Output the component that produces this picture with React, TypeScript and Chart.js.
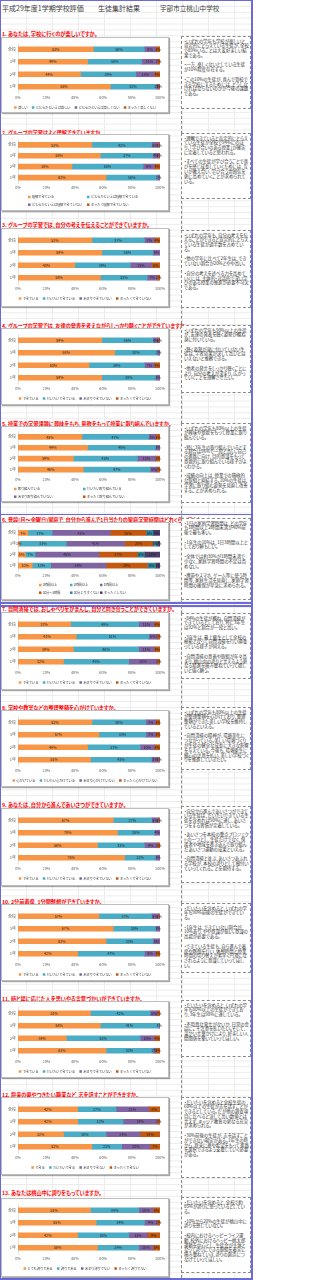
import React, { useEffect, useRef } from 'react';
import { Chart, registerables } from 'chart.js';
Chart.register(...registerables);

const FONT = '"Noto Sans CJK JP", "Noto Sans", sans-serif';

const categories = ['全校', '3年', '2年', '1年'];
const xTickLabels = ['0%', '20%', '40%', '60%', '80%', '100%'];

const colors4 = ['#F79646', '#4BACC6', '#8064A2', '#C4580E'];
const colors6 = ['#F79646', '#4BACC6', '#8064A2', '#C4580E', '#31859C', '#4B3A6B'];

// legend labels
const labels1 = ['楽しい', 'どちらかといえば楽しい', 'どちらかといえば楽しくない', 'まったく楽しくない'];
const labels2 = ['理解できている', 'どちらかといえば理解できている', 'どちらかといえば理解できていない', 'まったく理解できていない'];
const labelsDekiru = ['できている', 'だいたいできている', 'あまりできていない', 'まったくできていない'];
const labels5 = ['取り組んでいる', 'だいたい取り組んでいる', 'あまり取り組んでいない', 'まったく取り組んでいない'];
const labels6 = ['3時間以上', '2時間以上', '1時間以上', '30分〜1時間', '30分よりすくない', 'まったくしない'];
const labels8 = ['心がけている', 'だいたい心がけている', 'あまり心がけていない', 'まったく心がけていない'];
const labels12 = ['できる', 'だいたいできる', 'あまりできない', 'まったくできない'];
const labels13 = ['とても誇りである', '誇りである', 'あまり誇りでない', 'まったく誇りでない'];

// series values, each array ordered as categories: 全校, 3年, 2年, 1年
const q1Series = [[53, 49, 44, 65], [36, 38, 39, 32], [8, 11, 13, 2], [3, 2, 4, 1]];
const q2Series = [[52, 58, 38, 62], [42, 37, 50, 36], [5, 4, 8, 2], [1, 1, 4, 0]];
const q3Series = [[52, 59, 40, 58], [37, 36, 39, 33], [7, 5, 15, 7], [4, 0, 6, 2]];
const q4Series = [[59, 68, 50, 59], [36, 30, 39, 38], [4, 2, 7, 3], [1, 0, 4, 0]];
const q5Series = [[45, 49, 39, 46], [47, 48, 45, 47], [5, 3, 13, 5], [3, 0, 3, 2]];
const q6Series = [[7, 1, 5, 10], [17, 33, 7, 13], [41, 41, 45, 39], [25, 20, 27, 29], [5, 3, 5, 6], [5, 2, 11, 3]];
const q7Series = [[37, 41, 39, 32], [48, 51, 46, 46], [11, 6, 11, 20], [4, 2, 4, 2]];
const q8Series = [[52, 57, 49, 51], [38, 33, 37, 43], [7, 7, 10, 5], [3, 3, 4, 1]];
const q9Series = [[67, 70, 56, 75], [27, 26, 33, 22], [5, 4, 9, 3], [1, 0, 2, 0]];
const q10Series = [[57, 67, 62, 42], [37, 30, 33, 47], [5, 3, 5, 8], [1, 0, 0, 3]];
const q11Series = [[51, 58, 34, 62], [42, 41, 52, 33], [5, 1, 10, 2], [2, 0, 4, 3]];
const q12Series = [[42, 42, 32, 52], [27, 32, 30, 21], [23, 24, 24, 20], [8, 2, 14, 7]];
const q13Series = [[51, 55, 42, 56], [34, 34, 36, 29], [10, 9, 13, 10], [5, 2, 9, 5]];

const titles = [
  '1. あなたは、学校に行くのが楽しいですか。',
  '2. グループの学習はよく理解できていますか。',
  '3. グループの学習では、自分の考えを伝えることができていますか。',
  '4. グループの学習では、友達の発表を考えながらしっかり聴くことができていますか。',
  '5. 授業での学習課題に興味をもち、意欲をもって授業に取り組んでいますか。',
  '6. 普段(月〜金曜日)家庭で、自分から進んで1日当たりの家庭学習時間はどれくらいですか。',
  '7. 自問清掃では、おしゃべりをがまんし、自分と向き合うことができていますか。',
  '8. 学校や教室などの整理整頓を心がけていますか。',
  '9. あなたは、自分から進んであいさつができていますか。',
  '10. 2分前着席、1分間黙想ができていますか。',
  '11. 時と場に応じた人を思いやる言葉づかいができていますか。',
  '12. 将来の夢やつきたい職業など、志を話すことができますか。',
  '13. あなたは桃山中に誇りをもっていますか。',
];

const comments = [
  ['・いずれの学年も学校が楽しいと肯定的にとらえている生徒が、全校で89%いることは大変好ましい結果である。', '・一方、楽しくないとしている生徒が10%程度存在する。', '・この10%の生徒が、喜んで登校できる学校にするためには、どうしなければならないのかが今後の課題である。'],
  ['・理解できていると肯定的にとらえている生徒が全校で94%にのぼり、「学び合いのある授業」が確実に定着していると思われる。', '・すべての生徒が学び合うことで喜びを感じ成長していくためには、互いが教え合い、学び合う雰囲気を更に高めていくことが求められている。'],
  ['・いずれの学年も、自分の考えを伝えることができると肯定的にとらえている生徒が過半数を占めている。', '・他の学年に比べて2年生は、できていない割合が20%とやや高い。', '・自分の考えを述べる力を高めていくには、主体的・対話的で深い学びのある授業の推進が必要不可欠である。'],
  ['・いずれの学年も90%以上の生徒が、友達の発表を聴く姿勢が概ね身に付いている。', '・聴く姿勢が身に付いていない生徒は、学習効果が決して高いとはいえないと推察できる。', '・他者の発言をしっかり聴くことにより、自分の考えが深まり、広がっていくことを理解させたい。'],
  ['・いずれの学年も80%以上の生徒が興味や意欲をもって授業に取り組んでいる。', '・特に3年生の取り組んでいるとする割合は96%で一段と高い。自己の進路に向け、目的意識をもって意欲的に取り組んでいる様子がよくわかる。', '・成績の向上は、授業での積極的な取組と直結する。10%の生徒は、学習に取り組む姿勢を見直し改善することが求められる。'],
  ['・1日の家庭学習時間は、どの学年も1時間以上2時間未満が40%前後で最も多い。', '・1年生の10%は、1日3時間以上としており頼もしい。', '・全体では約30%が1時間未満で少なく、家庭学習時間の不足は否めない。', '・携帯やスマホ、ゲーム等に使う時間等、家庭生活を見直し、家庭学習時間の確保が早急に求められる。'],
  ['・84%の生徒が概ね、自問清掃ができているとしており、特に3年生は92%と割合が一段と高い。', '・3年生は、最上級生として全校の模範となって自問清掃を行い頑張っている様子が伺える。', '・自問清掃の意義や取組が年々高まり、桃山中の誇りと言えるよう更なる精進を積み重ねていって欲しいと強く願う。'],
  ['・いずれの学年も80%以上の生徒が整理整頓を心がけており、整理整頓ができた美しい学校を維持しているといえる。', '・自問清掃の精神が、環境美化につながっている。美しい環境づくりが生徒の健全な成長に大きな影響を与えている。今後も、環境衛生に細心の注意を払い、美しい学校づくりを推進していきたい。'],
  ['・自分から進んであいさつができている生徒は、だいたいできている生徒を含めれば90%に達し、あいさつをする習慣が定着している。', '・あいさつを本校の重点プロジェクトの一つとし、生徒だけでなく、保護者や地域を巻き込んで取り組んだあいさつ運動の成果といえる。', '・自問清掃と並ぶ、あいさつあふれる学校が、本校の誇りとして根付いていってくれることを期待する。'],
  ['・だいたいを含めると、いずれの学年も90%前後の生徒ができている。', '・1年生は、できていない割合が10%あり、やや意識が低い。意識の高揚が必要である。', '・できている生徒も、自ら進んで着席や黙想を行い、休憩時間と授業時間の切り替えが素早く円滑になされるように意識していってほしい。'],
  ['・だいたいを含めると、いずれの学年も80%以上の生徒ができており、3年生は98%に達している。', '・不用意な発言がないか、日常の会話にこそ注意を払いたい。そして、温かい言葉かけにより、好ましい人間関係を築いていってほしい。'],
  ['・だいたいを含めると全校生徒の60%以上の生徒が志を話すことができるとしている。だが他の調査項目に比べると決して高い数値とは言えず、キャリア教育の更なる充実が求められる。', '・30%前後の生徒が、志を話すことができない現実がある。1年生の時から、将来に夢や希望をもって進路を選択できるよう支援していく必要がある。'],
  ['・だいたいを含めると、全校で約85%が誇りに思っているとしている。', '・10%から20%の生徒が桃山中に誇りを感じていない。', '・校内におけるハッピーライフ運動、校外におけるハッピー桃太郎運動を中心とし、生徒会が主体となって誇りにできる取組を着実に積み重ねていき、誇りの創造につなげていってほしい。'],
];

const sectionData = [
  { labels: labels1, series: q1Series, colors: colors4 },
  { labels: labels2, series: q2Series, colors: colors4 },
  { labels: labelsDekiru, series: q3Series, colors: colors4 },
  { labels: labelsDekiru, series: q4Series, colors: colors4 },
  { labels: labels5, series: q5Series, colors: colors4 },
  { labels: labels6, series: q6Series, colors: colors6 },
  { labels: labelsDekiru, series: q7Series, colors: colors4 },
  { labels: labels8, series: q8Series, colors: colors4 },
  { labels: labelsDekiru, series: q9Series, colors: colors4 },
  { labels: labelsDekiru, series: q10Series, colors: colors4 },
  { labels: labelsDekiru, series: q11Series, colors: colors4 },
  { labels: labels12, series: q12Series, colors: colors4 },
  { labels: labels13, series: q13Series, colors: colors4 },
];

// layout: positions on the page (px)
type Lay = { titleY: number; boxTop: number; boxH: number; textTop: number; textH: number; cols?: number[] };
const layout: Lay[] = [
  { titleY: 33, boxTop: 37, boxH: 76, textTop: 36, textH: 73 },
  { titleY: 132, boxTop: 134, boxH: 77, textTop: 133, textH: 66, cols: [26, 85] },
  { titleY: 224, boxTop: 228, boxH: 79, textTop: 230, textH: 78 },
  { titleY: 325, boxTop: 328, boxH: 77, textTop: 325, textH: 68 },
  { titleY: 423, boxTop: 426, boxH: 76, textTop: 423, textH: 80, cols: [12, 81] },
  { titleY: 519, boxTop: 522, boxH: 78, textTop: 518, textH: 82, cols: [37, 68, 98] },
  { titleY: 608, boxTop: 612, boxH: 78, textTop: 613, textH: 66 },
  { titleY: 707, boxTop: 710, boxH: 77, textTop: 707, textH: 63 },
  { titleY: 804, boxTop: 808, boxH: 78, textTop: 806, textH: 77 },
  { titleY: 901, boxTop: 904, boxH: 77, textTop: 903, textH: 70 },
  { titleY: 998, boxTop: 1001, boxH: 77, textTop: 1000, textH: 57 },
  { titleY: 1094, boxTop: 1097, boxH: 78, textTop: 1097, textH: 81 },
  { titleY: 1192, boxTop: 1198, boxH: 79, textTop: 1197, textH: 76 },
];

const BOX_W = 168;

const segLabels = {
  id: 'segLabels',
  afterDatasetsDraw(chart: any) {
    const ctx = chart.ctx;
    ctx.save();
    ctx.font = `3.7px ${FONT}`;
    ctx.fillStyle = '#262626';
    ctx.textAlign = 'center';
    ctx.textBaseline = 'middle';
    chart.data.datasets.forEach((ds: any, di: number) => {
      const meta = chart.getDatasetMeta(di);
      meta.data.forEach((el: any, i: number) => {
        const v = ds.data[i];
        if (!v) return;
        const p = el.getProps(['x', 'y', 'base'], true);
        ctx.fillText(v + '%', (p.x + p.base) / 2, p.y + 0.3);
      });
    });
    ctx.restore();
  },
};

const gridLegend = {
  id: 'gridLegend',
  afterDraw(chart: any, _args: any, opts: any) {
    const ctx = chart.ctx;
    const items = chart.data.datasets.map((d: any) => ({ text: d.label, color: d.backgroundColor }));
    const size = 3.4;
    const box = 2.5;
    const gap = 4.5;
    ctx.save();
    ctx.font = `${size}px ${FONT}`;
    try { (ctx as any).letterSpacing = '-0.25px'; } catch (e) { /* ignore */ }
    ctx.textBaseline = 'middle';
    ctx.textAlign = 'left';
    const drawItem = (it: any, x: number, y: number) => {
      ctx.fillStyle = it.color;
      ctx.fillRect(x, y - box / 2, box, box);
      ctx.fillStyle = '#404040';
      ctx.fillText(it.text, x + box + 1.3, y + 0.2);
    };
    if (opts.cols) {
      const n = opts.cols.length;
      items.forEach((it: any, k: number) => {
        const r = Math.floor(k / n);
        const c = k % n;
        drawItem(it, opts.cols[c], opts.y + r * 7.7);
      });
    } else {
      const widths = items.map((it: any) => box + 1.3 + ctx.measureText(it.text).width);
      const total = widths.reduce((a: number, b: number) => a + b, 0) + gap * (items.length - 1);
      let x = (chart.width - total) / 2;
      items.forEach((it: any, k: number) => {
        drawItem(it, x, opts.y);
        x += widths[k] + gap;
      });
    }
    ctx.restore();
  },
};

function buildConfig(idx: number): any {
  const s = sectionData[idx];
  const lay = layout[idx];
  const canvasH = lay.boxH - 2;
  const twoRows = !!lay.cols;
  const areaTop = twoRows ? 3.5 : 5;
  const areaBottom = twoRows ? 48 : 55;
  return {
    type: 'bar',
    data: {
      labels: categories,
      datasets: s.series.map((d, k) => ({
        label: s.labels[k],
        data: d,
        backgroundColor: s.colors[k],
        borderWidth: 0,
        barThickness: 5,
      })),
    },
    options: {
      indexAxis: 'y',
      responsive: false,
      animation: false,
      devicePixelRatio: 1,
      layout: { padding: { top: areaTop, bottom: canvasH - areaBottom - 8, left: 2, right: 8 } },
      plugins: {
        legend: { display: false },
        tooltip: { enabled: false },
        gridLegend: { cols: lay.cols, y: twoRows ? 62 : 69.5 },
      },
      scales: {
        x: {
          stacked: true,
          min: 0,
          max: 100,
          ticks: {
            stepSize: 20,
            padding: 2.5,
            color: '#595959',
            font: { size: 3.8, family: FONT },
            callback: (_v: any, i: number) => xTickLabels[i],
          },
          grid: { display: false, drawTicks: false },
          border: { display: false },
          afterFit: (sc: any) => { sc.height = 8; },
        },
        y: {
          stacked: true,
          ticks: { color: '#595959', font: { size: 4, family: FONT }, padding: 2 },
          grid: { display: false, drawTicks: false },
          border: { display: true, color: '#d0d0d0', width: 0.6 },
          afterFit: (sc: any) => { sc.width = 14; },
        },
      },
    },
    plugins: [segLabels, gridLegend],
  };
}

export default function App() {
  const refs = useRef<(HTMLCanvasElement | null)[]>([]);
  useEffect(() => {
    const charts = layout.map((_, i) => new Chart(refs.current[i] as HTMLCanvasElement, buildConfig(i)));
    return () => charts.forEach((c) => c.destroy());
  }, []);

  const gridBg = {
    backgroundColor: '#fff',
    backgroundImage:
      'linear-gradient(to bottom, #ececec 1px, transparent 1px), linear-gradient(to right, #ececec 1px, transparent 1px)',
    backgroundSize: '100% 5.9px, 26px 100%',
  } as React.CSSProperties;

  const palt = { fontFeatureSettings: '"palt" 1' } as React.CSSProperties;
  const blue = '#6a6ad8';

  return (
    <div style={{ position: 'absolute', left: 0, top: 0, width: 315, height: 1280, background: '#fff', overflow: 'hidden', fontFamily: FONT }}>
      <div style={{ position: 'absolute', left: 0, top: 0, width: 252, height: 1280, ...gridBg }} />
      {/* page border / page breaks */}
      <div style={{ position: 'absolute', left: 0, top: 0, width: 1, height: 1280, background: blue }} />
      <div style={{ position: 'absolute', left: 251, top: 0, width: 2, height: 1280, background: blue }} />
      <div style={{ position: 'absolute', left: 0, top: 0, width: 253, height: 1, background: blue }} />
      <div style={{ position: 'absolute', left: 0, top: 1278, width: 253, height: 2, background: blue }} />
      <div style={{ position: 'absolute', left: 0, top: 514, width: 253, height: 1.2, background: blue }} />
      <div style={{ position: 'absolute', left: 0, top: 602, width: 253, height: 1.5, background: blue }} />
      <div style={{ position: 'absolute', left: 0, top: 605, width: 253, height: 1.5, background: blue }} />
      {/* vertical dashed break */}
      <div style={{ position: 'absolute', left: 181, top: 36, width: 0, height: 1242, borderLeft: '1px dashed #8a8a8a' }} />

      {/* header */}
      <div style={{ position: 'absolute', left: 2, top: 3, fontSize: 7, lineHeight: '10px', color: '#404040', whiteSpace: 'nowrap' }}>平成29年度1学期学校評価</div>
      <div style={{ position: 'absolute', left: 98, top: 3, fontSize: 7, lineHeight: '10px', color: '#404040', whiteSpace: 'nowrap' }}>生徒集計結果</div>
      <div style={{ position: 'absolute', left: 160, top: 3, fontSize: 6.6, lineHeight: '10px', color: '#404040', whiteSpace: 'nowrap' }}>宇部市立桃山中学校</div>

      {layout.map((lay, i) => (
        <React.Fragment key={i}>
          <div style={{ position: 'absolute', left: 2, top: lay.titleY - 3.5, fontSize: 5.2, lineHeight: '7px', color: '#ff0000', fontWeight: 700, whiteSpace: 'nowrap', ...palt }}>
            {titles[i]}
          </div>
          <div style={{ position: 'absolute', left: 1, top: lay.boxTop, width: BOX_W, height: lay.boxH, boxSizing: 'border-box', border: '1px solid #bdbdbd', background: '#fff', boxShadow: '1px 1px 1px rgba(0,0,0,0.35)' }}>
            <canvas ref={(el) => { refs.current[i] = el; }} width={BOX_W - 2} height={lay.boxH - 2} style={{ display: 'block', width: BOX_W - 2, height: lay.boxH - 2 }} />
          </div>
          <div style={{ position: 'absolute', left: 181, top: lay.textTop, width: 70, height: lay.textH, boxSizing: 'border-box', border: '1px dashed #8a8a8a', background: '#fff', padding: '1.5px 1px 0 2px', fontSize: 4.4, lineHeight: '4.8px', color: '#333', overflow: 'hidden', ...palt }}>
            {comments[i].map((p, k) => (
              <div key={k} style={{ marginBottom: 4.8 }}>{p}</div>
            ))}
          </div>
        </React.Fragment>
      ))}
    </div>
  );
}
